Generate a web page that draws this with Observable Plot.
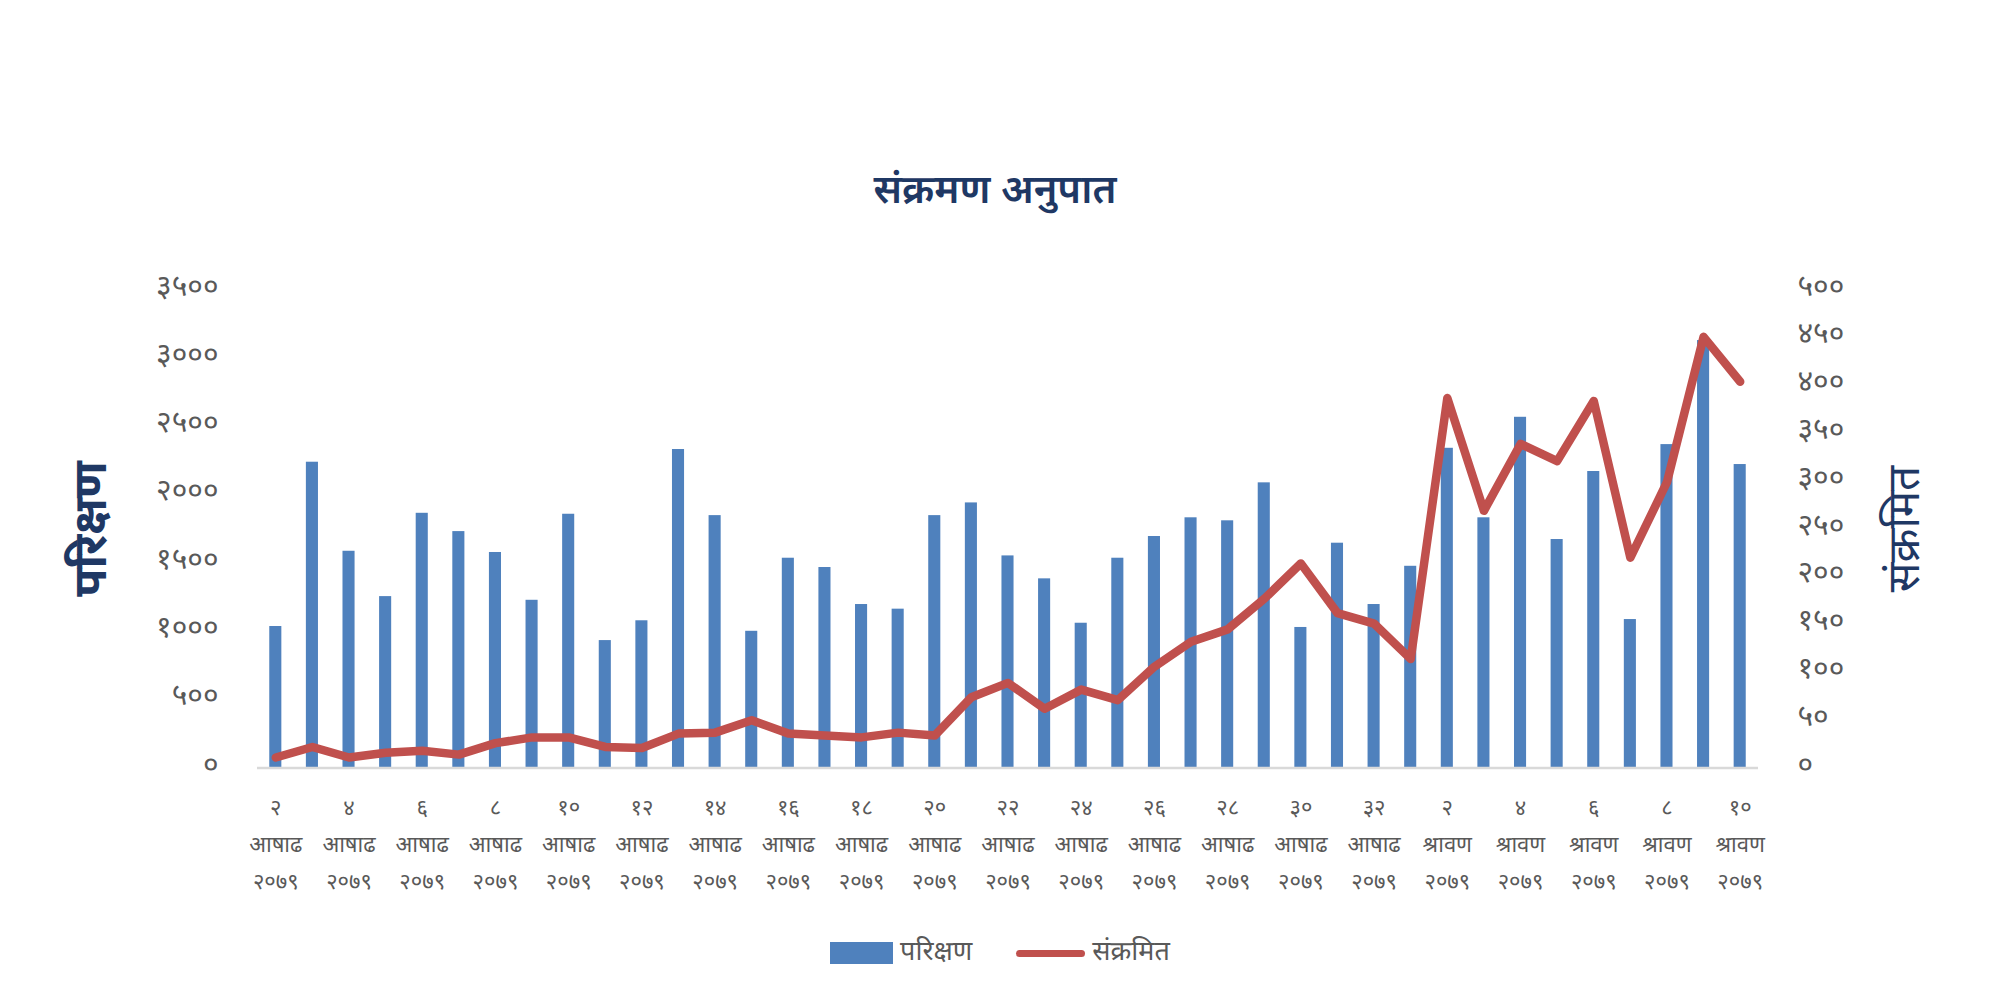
<!DOCTYPE html>
<html>
<head>
<meta charset="utf-8">
<script src="https://cdn.jsdelivr.net/npm/d3@7"></script>
<script src="https://cdn.jsdelivr.net/npm/@observablehq/plot@0.6"></script>
<style>
  html, body { margin: 0; padding: 0; background: #fff; }
  body { font-family: "Noto Sans Devanagari", "Mangal", "Lohit Devanagari", "FreeSans", "Noto Sans", sans-serif; }
  #wrap { position: relative; width: 2000px; height: 1000px; overflow: hidden; }
  #title { position: absolute; left: 0; top: 163px; width: 1990px; text-align: center;
           font-size: 40px; line-height: 60px; font-weight: 600; color: #1F3864; }
  .layer { position: absolute; left: 0; top: 250px; }
  #legend { position: absolute; left: 0; top: 933px; width: 2000px; height: 40px;
            display: flex; justify-content: center; align-items: center; gap: 44px;
            font-size: 27px; color: #595959; }
  .item { display: flex; align-items: center; gap: 7px; }
  .sw-bar { width: 63px; height: 22px; background: #4F81BD; }
  .sw-line { width: 69px; height: 7px; background: #C0504D; border-radius: 4px; }
</style>
</head>
<body>
<div id="wrap">
  <div id="title"></div>
  <div id="p1" class="layer"></div>
  <div id="p2" class="layer"></div>
  <div id="legend"></div>
</div>
<script>
// ---- data ----
const chartTitle = "संक्रमण अनुपात";
const leftTitle = "परिक्षण";
const rightTitle = "संक्रमित";
const year = "२०७९";
const categories = [
  "२ आषाढ","३ आषाढ","४ आषाढ","५ आषाढ","६ आषाढ","७ आषाढ","८ आषाढ","९ आषाढ","१० आषाढ",
  "११ आषाढ","१२ आषाढ","१३ आषाढ","१४ आषाढ","१५ आषाढ","१६ आषाढ","१७ आषाढ","१८ आषाढ",
  "१९ आषाढ","२० आषाढ","२१ आषाढ","२२ आषाढ","२३ आषाढ","२४ आषाढ","२५ आषाढ","२६ आषाढ",
  "२७ आषाढ","२८ आषाढ","२९ आषाढ","३० आषाढ","३१ आषाढ","३२ आषाढ",
  "१ श्रावण","२ श्रावण","३ श्रावण","४ श्रावण","५ श्रावण","६ श्रावण","७ श्रावण",
  "८ श्रावण","९ श्रावण","१० श्रावण"
];
const tests = [1036,2239,1587,1255,1865,1731,1578,1228,1858,933,1078,2332,1848,1001,1536,
  1468,1197,1163,1848,1941,1553,1385,1060,1536,1695,1832,1810,2088,1029,1646,1197,1477,
  2341,1832,2568,1673,2171,1087,2368,3130,2222];
const infected = [11,22,11,16,18,14,26,32,32,22,21,36,37,50,36,34,32,37,34,74,89,62,82,71,
  106,132,145,177,214,162,151,114,387,269,339,321,384,220,299,451,404];
const leftTicks = [0,500,1000,1500,2000,2500,3000,3500];
const rightTicks = [0,50,100,150,200,250,300,350,400,450,500];
const xTicks = categories.filter((d, i) => i % 2 === 0);

// ---- helpers ----
const devDigits = "०१२३४५६७८९";
const toDev = n => String(n).replace(/\d/g, d => devDigits[d]);
const rows = categories.map((c, i) => ({date: c, tests: tests[i], infected: infected[i]}));

const W = 2000, H = 700;
const FONT = '"Noto Sans Devanagari", "Mangal", "Lohit Devanagari", "FreeSans", "Noto Sans", sans-serif';
const common = {
  width: W, height: H,
  marginLeft: 257, marginRight: 242, marginTop: 39.5, marginBottom: 182.5,
  style: {fontFamily: FONT, background: "transparent"},
};
const xScale = {type: "band", domain: categories, paddingInner: 0.67, paddingOuter: 0.335, round: false};

document.getElementById("title").textContent = chartTitle;

const p1 = Plot.plot({
  ...common,
  x: {...xScale},
  y: {domain: [0, 3500]},
  marks: [
    Plot.barY(rows, {x: "date", y: "tests", fill: "#4F81BD"}),
    Plot.ruleY([0], {stroke: "#D9D9D9", strokeWidth: 2.5}),
    Plot.axisY({ticks: leftTicks, tickFormat: toDev, tickSize: 0, tickPadding: 39, dy: -4,
                fontSize: 30, color: "#595959", label: null}),
    Plot.axisX({ticks: xTicks, tickSize: 0, tickPadding: 20, fontSize: 22, color: "#595959",
                lineHeight: 1.7, label: null,
                tickFormat: d => { const [day, month] = d.split(" "); return `${day}\n${month}\n${year}`; }}),
    Plot.text([leftTitle], {frameAnchor: "left", textAnchor: "middle", text: d => d, rotate: -90, dx: -166,
                fontSize: 46, fontWeight: "bold", fill: "#1F3864"})
  ]
});
document.getElementById("p1").appendChild(p1);

const p2 = Plot.plot({
  ...common,
  x: {...xScale, axis: null},
  y: {domain: [0, 500]},
  marks: [
    Plot.line(rows, {x: "date", y: "infected", stroke: "#C0504D", strokeWidth: 8.5,
                     strokeLinejoin: "round", strokeLinecap: "round"}),
    Plot.axisY({anchor: "right", ticks: rightTicks, tickFormat: toDev, tickSize: 0, tickPadding: 39, dy: -4,
                fontSize: 30, color: "#595959", label: null}),
    Plot.text([rightTitle], {frameAnchor: "right", textAnchor: "middle", text: d => d, rotate: -90, dx: 146,
                fontSize: 44, fill: "#1F3864"})
  ]
});
document.getElementById("p2").appendChild(p2);

// ---- legend ----
const legend = document.getElementById("legend");
[["sw-bar", leftTitle], ["sw-line", rightTitle]].forEach(([cls, label]) => {
  const it = document.createElement("div"); it.className = "item";
  const sw = document.createElement("div"); sw.className = cls;
  const tx = document.createElement("span"); tx.textContent = label;
  it.appendChild(sw); it.appendChild(tx); legend.appendChild(it);
});
</script>
</body>
</html>
